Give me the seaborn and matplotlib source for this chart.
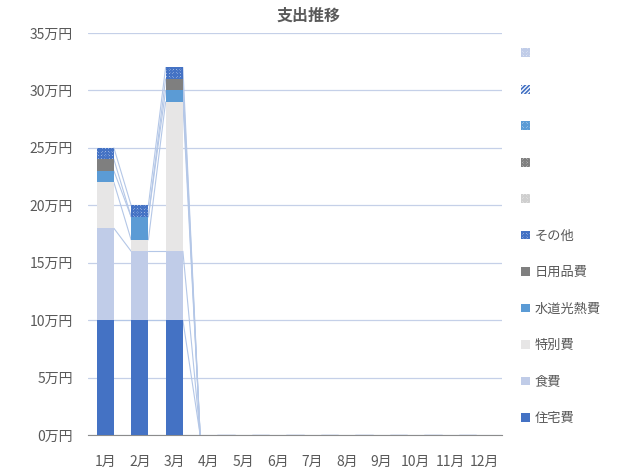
import numpy as np
import pandas as pd
import matplotlib
matplotlib.use("Agg")
import matplotlib.pyplot as plt
import seaborn as sns
from matplotlib.patches import Patch

# 月別の支出(単位: 万円)
months = [f"{m}月" for m in range(1, 13)]
housing = [10, 10, 10, 0, 0, 0, 0, 0, 0, 0, 0, 0]   # 住宅費
food = [8, 6, 6, 0, 0, 0, 0, 0, 0, 0, 0, 0]         # 食費
special = [4, 1, 13, 0, 0, 0, 0, 0, 0, 0, 0, 0]     # 特別費
utility = [1, 2, 1, 0, 0, 0, 0, 0, 0, 0, 0, 0]      # 水道光熱費
daily = [1, 0, 1, 0, 0, 0, 0, 0, 0, 0, 0, 0]        # 日用品費
other = [1, 1, 1, 0, 0, 0, 0, 0, 0, 0, 0, 0]        # その他

series_names = ["住宅費", "食費", "特別費", "水道光熱費", "日用品費", "その他"]
series_vals = [housing, food, special, utility, daily, other]
yticks = [0, 5, 10, 15, 20, 25, 30, 35]

CHECK = "x" * 12
# 見た目 (face, hatch色, hatch)
styles = [
    ("#4472C4", None, ""),
    ("#C0CCE8", None, ""),
    ("#E7E6E6", None, ""),
    ("#5B9BD5", None, ""),
    ("#7F7F7F", None, ""),
    ("white", "#4472C4", CHECK),
]
# 名前のない系列(凡例のみ)
blank_styles = [
    ("white", "#C0CCE8", CHECK),
    ("#4472C4", "white", "/" * 8),
    ("white", "#5B9BD5", CHECK),
    ("white", "#7F7F7F", CHECK),
    ("white", "#CFCFCF", CHECK),
]

sns.set_style("white")
plt.rcParams["font.family"] = ["Noto Sans CJK JP", "DejaVu Sans"]
plt.rcParams["hatch.linewidth"] = 0.9
txt = "#595959"

fig = plt.figure(figsize=(6.17, 4.75), dpi=100)
ax = fig.add_axes([88 / 617, 40 / 475, 414 / 617, 402 / 475])

cum = np.cumsum(np.array(series_vals, dtype=float), axis=0)

# 積み上げ: 上の層(累計)から順に描いて重ねる
for i in range(len(series_names) - 1, -1, -1):
    face, hcol, hatch = styles[i]
    sns.barplot(x=months, y=cum[i], order=months, color=face if face != "white" else "#FFFFFF",
                saturation=1, width=0.5, ax=ax, zorder=3)
    for p in ax.containers[-1]:
        p.set_facecolor(face)
        p.set_linewidth(0)
        if hatch:
            p.set_hatch(hatch)
            p.set_edgecolor(hcol)

# 区分線
for i in range(len(series_names)):
    for j in range(len(months) - 1):
        ax.plot([j + 0.25, j + 0.75], [cum[i][j], cum[i][j + 1]],
                color="#B4C7E7", lw=0.8, zorder=2)

ax.set_xlim(-0.5, 11.5)
ax.set_ylim(0, 35)
ax.set_yticks(yticks)
ax.set_yticklabels([f"{v}万円" for v in yticks])
ax.yaxis.grid(True, color="#C5D0E8", lw=0.9)
ax.set_axisbelow(True)
ax.set_xlabel("")
ax.set_ylabel("")
for s in ["left", "top", "right"]:
    ax.spines[s].set_visible(False)
ax.spines["bottom"].set_color("#8C8C8C")
ax.tick_params(axis="y", length=0, pad=11, labelsize=10, labelcolor=txt)
ax.tick_params(axis="x", length=0, pad=14, labelsize=10, labelcolor=txt)

fig.suptitle("支出推移", x=0.5, y=1 - 8 / 475, va="top", fontsize=11.5,
             fontweight="bold", color=txt)

handles = []
labels = []
for face, hcol, hatch in blank_styles:
    handles.append(Patch(facecolor=face, edgecolor=hcol, hatch=hatch, linewidth=0))
    labels.append("")
for i in range(len(series_names) - 1, -1, -1):
    face, hcol, hatch = styles[i]
    handles.append(Patch(facecolor=face, edgecolor=hcol if hcol else face,
                         hatch=hatch, linewidth=0))
    labels.append(series_names[i])
fig.legend(handles, labels, loc="upper left", bbox_to_anchor=(516 / 617, 1 - 42 / 475),
           frameon=False, fontsize=9.5, labelcolor=txt, handlelength=0.65,
           handleheight=0.65, handletextpad=0.35, labelspacing=1.78, borderaxespad=0)

fig.savefig("out.png", dpi=100)
